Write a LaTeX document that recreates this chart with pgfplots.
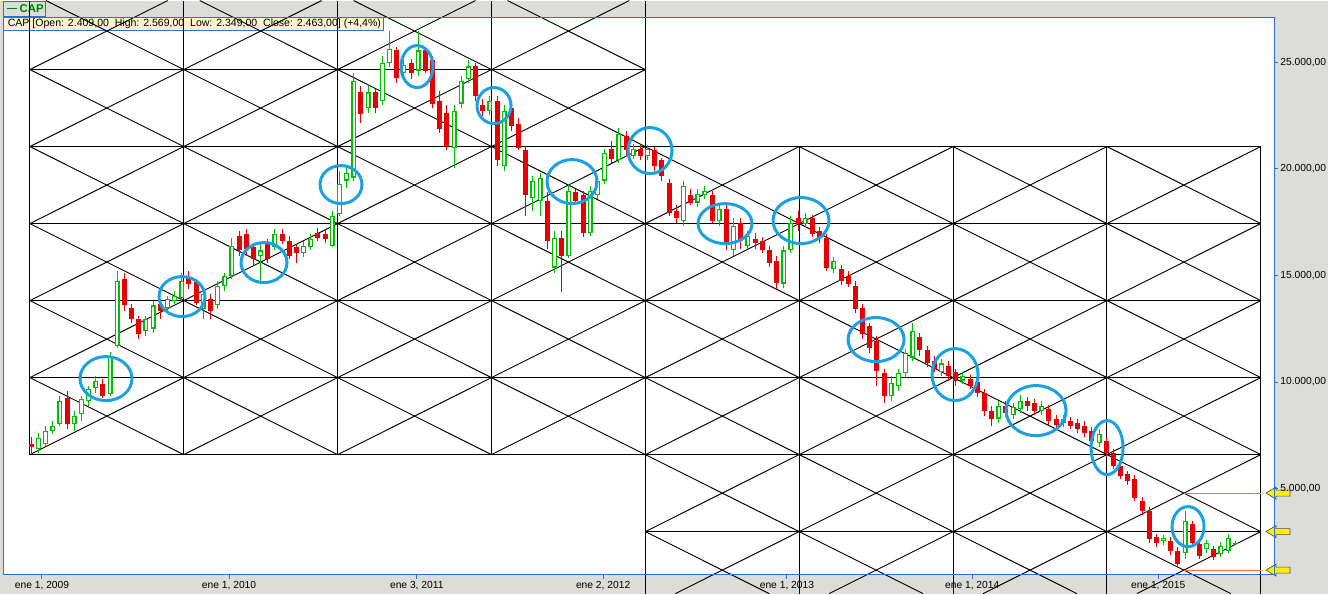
\documentclass[border=0pt]{standalone}
\usepackage{fontspec}
\setmainfont{Liberation Sans}
\usepackage{pgfplots}
\usepackage{pgfplotstable}
\pgfplotsset{compat=1.18}

\definecolor{bg}{RGB}{220,221,216}
\definecolor{axblue}{RGB}{45,110,220}
\definecolor{circ}{RGB}{27,161,226}
\definecolor{upg}{RGB}{0,192,0}
\definecolor{dnr}{RGB}{232,0,0}
\definecolor{infobg}{RGB}{255,242,204}
\definecolor{orng}{RGB}{255,120,20}
\definecolor{arrowy}{RGB}{255,240,0}
\definecolor{capgreen}{RGB}{0,128,0}

% weekly CAP candles (w = weeks since 1 Jan 2009), sampled every 2 weeks
\pgfplotstableread{
w o h l c
-3 7100 7400 6650 6950
-1 6880 7630 6690 7390
1 7110 7960 7020 7720
3 7720 8190 7580 7960
5 8050 9365 7960 9130
7 9270 9600 7810 8050
9 8050 8660 7720 8430
11 8520 9360 8190 9220
13 9130 9830 8900 9690
15 9740 10300 9500 10070
17 9930 10160 9230 9365
19 9460 11400 9360 11240
21 11700 15230 11600 14760
23 14850 15130 13350 13590
25 13490 13680 12790 12980
27 12980 13120 12040 12270
29 12410 13120 12180 12980
31 12510 13820 12320 13590
33 13680 13910 12980 13350
35 13490 14050 13350 13910
37 13820 14290 13680 14050
39 13960 15130 13820 14760
41 14900 15230 14380 14620
43 14670 14850 13590 13730
45 13440 14380 12980 14150
47 13910 14150 12980 13350
49 13590 14760 13440 14520
51 14520 15130 14290 14990
53 14990 16770 14850 16400
55 16870 17100 15930 16170
57 16960 17200 15930 16260
59 16310 16490 15460 15790
61 15930 16490 14760 16170
63 16490 16730 15600 15790
65 16310 17200 16170 16960
67 16960 17200 16490 16630
69 16630 16870 15790 15930
71 16310 16490 15600 16030
73 16030 16630 15880 16400
75 16310 16960 16170 16730
77 17010 17240 16630 16770
79 16960 17200 16540 16730
81 16400 18040 16310 17810
83 17900 19920 17810 19310
85 19450 20150 19120 19820
87 19590 24510 19450 24140
89 23580 23900 22170 22590
91 22830 23900 22640 23580
93 23580 23760 22640 22830
95 23200 25310 22970 24980
97 24940 26480 24790 25640
99 25550 25690 24040 24280
101 24510 25080 24370 24890
103 24980 25170 24230 24510
105 24610 26480 24370 25550
107 25550 25690 24470 24610
109 25080 25310 22830 23060
111 23200 23670 21700 21890
113 22640 22970 20860 21090
115 20990 22970 20060 22730
117 23060 24370 22830 24140
119 24230 25080 24040 24800
121 24800 24980 23200 23430
123 22970 23290 22500 22730
125 22730 23430 22540 23200
127 23200 23430 20150 20390
129 20150 22970 19920 22730
131 22830 23020 21790 22030
133 22120 22360 20860 20990
135 20860 21090 17810 18750
137 18650 19680 18040 19450
139 18510 19820 17810 19590
141 18510 18890 16260 16630
143 15370 17100 15130 16770
145 16770 17100 14200 15930
147 15930 19310 15800 18980
149 18890 19070 18280 18510
151 18750 18980 16820 17010
153 17010 19210 16870 18980
155 18750 19640 18600 19450
157 19450 20950 19310 20760
159 20950 21320 20290 20480
161 20390 21930 20250 21650
163 21560 21790 20620 20860
165 20620 21180 20480 20950
167 20950 21140 20390 20620
169 20620 21140 20390 20950
171 20860 21040 19920 20150
173 20390 20530 19450 19680
175 19350 19540 17810 17950
177 18040 18280 17480 17710
179 17570 19450 17340 19210
181 18750 19070 18280 18420
183 18420 19070 18230 18840
185 18750 19210 18600 18980
187 18750 18980 17480 17570
189 17570 18370 17340 18130
191 18130 18370 16170 16540
193 16170 17670 15930 17340
195 17480 17670 16260 16630
197 16400 17100 16260 16870
199 16730 17010 16260 16540
201 16630 16820 16030 16170
203 16170 16400 15410 15600
205 15700 15930 14380 14660
207 14620 16400 14430 16170
209 16170 17810 16070 17480
211 17710 18040 17100 17430
213 17430 17950 17290 17710
215 17670 17850 16820 16960
217 17100 17290 16540 16770
219 16770 16960 15230 15370
221 15320 15880 15130 15700
223 15320 15510 14570 14760
225 14990 15230 14480 14620
227 14520 14760 13260 13440
229 13490 13680 12040 12270
231 12650 12790 11380 11620
233 11940 12180 9830 10540
235 10430 10630 9040 9360
237 9360 10300 9130 9970
239 9830 10630 9600 10430
241 10430 11570 10260 11380
243 11150 12790 11010 12410
245 12090 12320 11240 11480
247 11480 11710 10720 10910
249 11010 11240 10450 10630
251 10450 11100 10300 10870
253 10770 11010 10070 10300
255 10450 10630 9830 10070
257 10070 10450 9930 10300
259 10160 10350 9690 9830
261 9980 10160 9320 9500
263 9500 9690 8430 8660
265 8660 8900 7960 8290
267 8290 9130 8100 8900
269 8900 9130 8380 8570
271 8470 9040 8290 8850
273 8750 9410 8570 9130
275 9130 9320 8660 8900
277 9040 9220 8470 8660
279 8660 9130 8470 8900
281 8750 8940 8000 8190
283 8290 8470 7820 8000
285 8100 8470 7910 8290
287 8190 8380 7820 7960
289 8100 8290 7630 7820
291 7960 8190 7440 7630
293 7720 7910 7070 7250
295 7160 7820 6970 7580
297 7250 7440 6500 6690
299 6690 6880 5940 6080
301 6080 6220 5470 5610
303 5710 5850 5190 5380
305 5470 5660 4440 4580
307 4440 4630 3780 3970
309 3970 4160 2470 2660
311 2750 2890 2280 2470
313 2560 2850 2380 2700
315 2560 2750 1910 2090
317 2090 2280 1350 1490
319 1960 3970 1720 3500
321 3360 3500 2330 2470
323 2420 2560 1720 1860
325 2190 2610 2000 2470
327 2190 2330 1670 1810
329 1950 2520 1810 2330
331 2090 2890 2000 2700
333 2409 2569 2349 2463
}\capdata

\begin{document}
\begin{tikzpicture}[hv/.style={black, line width=0.85pt}, dg/.style={black, line width=0.7pt}]
\begin{axis}[
  scale only axis, width=952.5pt, height=417.75pt,
  xmin=-10.61, xmax=343.85, ymin=969.4, ymax=27092.7,
  clip=false, axis on top,
  axis line style={axblue, line width=0.75pt},
  tick style={axblue, line width=0.75pt},
  major tick length=3pt, tick align=outside,
  xtick pos=bottom, ytick pos=right, yticklabel pos=right,
  scaled y ticks=false,
  xtick={0,52.2,104.6,156.6,207.9,259.6,311.5},
  xticklabels={{ene 1, 2009},{ene 1, 2010},{ene 3, 2011},{ene 2, 2012},{ene 1, 2013},{ene 1, 2014},{ene 1, 2015}},
  ytick={5000,10000,15000,20000,25000},
  yticklabels={{5.000,00},{10.000,00},{15.000,00},{20.000,00},{25.000,00}},
  ticklabel style={font=\fontsize{7.7}{9}\selectfont, text=black},
  xticklabel style={inner sep=0pt, yshift=-1.5pt},
  yticklabel style={anchor=west, inner sep=0pt, xshift=1.5pt},
]
% window background and plot area
\fill[bg] (axis cs:-11.72,78.3) rectangle (axis cs:358.9,27890);
\fill[white] (rel axis cs:0,0) rectangle (rel axis cs:1,1);
% legend tab and quote bar
\draw[axblue, line width=0.75pt] (axis cs:-10.61,27160) rectangle (axis cs:0.84,27860);
\draw[capgreen, line width=1pt] (axis cs:-9.77,27515) -- (axis cs:-7.0,27515);
\node[anchor=west, inner sep=0pt, text=capgreen, font=\fontsize{8.5}{10}\selectfont\bfseries] at (axis cs:-6.3,27515) {CAP};
\draw[axblue, fill=infobg, line width=0.75pt] (axis cs:-10.61,26483) rectangle (axis cs:95.17,27093);
\node[anchor=west, inner sep=0pt, font=\fontsize{7.9}{9}\selectfont] at (axis cs:-9.6,26788)
  {CAP [Open: 2.409,00\ \ High: 2.569,00\ \ Low: 2.349,00\ \ Close: 2.463,00] (+4,4\%)};

% Gann grid, left block
\pgfplotsinvokeforeach{24654,21043,17431,13820,10209,6597}{
  \draw[hv] (axis cs:-3.38,#1) -- (axis cs:168.38,#1);}
\pgfplotsinvokeforeach{-3.38,39.56,82.50,125.44}{
  \draw[hv] (axis cs:#1,6597) -- (axis cs:#1,27890);}
\draw[hv] (axis cs:168.38,78.3) -- (axis cs:168.38,27890);
\draw[dg] (axis cs:-3.38,24654) -- (axis cs:35.09,27890);
\draw[dg] (axis cs:-3.38,21043) -- (axis cs:78.03,27890);
\draw[dg] (axis cs:-3.38,17431) -- (axis cs:120.97,27890);
\draw[dg] (axis cs:-3.38,13820) -- (axis cs:163.91,27890);
\draw[dg] (axis cs:-3.38,10209) -- (axis cs:168.38,24654);
\draw[dg] (axis cs:-3.38,6597) -- (axis cs:168.38,21043);
\draw[dg] (axis cs:39.56,6597) -- (axis cs:168.38,17431);
\draw[dg] (axis cs:82.50,6597) -- (axis cs:168.38,13820);
\draw[dg] (axis cs:125.44,6597) -- (axis cs:168.38,10209);
\draw[dg] (axis cs:-3.38,10209) -- (axis cs:39.56,6597);
\draw[dg] (axis cs:-3.38,13820) -- (axis cs:82.50,6597);
\draw[dg] (axis cs:-3.38,17431) -- (axis cs:125.44,6597);
\draw[dg] (axis cs:-3.38,21043) -- (axis cs:168.38,6597);
\draw[dg] (axis cs:-3.38,24654) -- (axis cs:168.38,10209);
\draw[dg] (axis cs:1.09,27890) -- (axis cs:168.38,13820);
\draw[dg] (axis cs:44.03,27890) -- (axis cs:168.38,17431);
\draw[dg] (axis cs:86.97,27890) -- (axis cs:168.38,21043);
\draw[dg] (axis cs:129.91,27890) -- (axis cs:168.38,24654);
% Gann grid, right block
\pgfplotsinvokeforeach{21043,17431,13820,10209,6597,2986}{
  \draw[hv] (axis cs:168.38,#1) -- (axis cs:340.14,#1);}
\pgfplotsinvokeforeach{211.32,254.26,297.20,340.14}{
  \draw[hv] (axis cs:#1,78.3) -- (axis cs:#1,21043);}
\draw[dg] (axis cs:168.38,17431) -- (axis cs:211.32,21043);
\draw[dg] (axis cs:168.38,13820) -- (axis cs:254.26,21043);
\draw[dg] (axis cs:168.38,10209) -- (axis cs:297.20,21043);
\draw[dg] (axis cs:168.38,6597) -- (axis cs:340.14,21043);
\draw[dg] (axis cs:168.38,2986) -- (axis cs:340.14,17431);
\draw[dg] (axis cs:176.75,78.3) -- (axis cs:340.14,13820);
\draw[dg] (axis cs:219.69,78.3) -- (axis cs:340.14,10209);
\draw[dg] (axis cs:262.63,78.3) -- (axis cs:340.14,6597);
\draw[dg] (axis cs:305.57,78.3) -- (axis cs:340.14,2986);
\draw[dg] (axis cs:297.20,21043) -- (axis cs:340.14,17431);
\draw[dg] (axis cs:254.26,21043) -- (axis cs:340.14,13820);
\draw[dg] (axis cs:211.32,21043) -- (axis cs:340.14,10209);
\draw[dg] (axis cs:168.38,21043) -- (axis cs:340.14,6597);
\draw[dg] (axis cs:168.38,17431) -- (axis cs:340.14,2986);
\draw[dg] (axis cs:168.38,13820) -- (axis cs:331.77,78.3);
\draw[dg] (axis cs:168.38,10209) -- (axis cs:288.83,78.3);
\draw[dg] (axis cs:168.38,6597) -- (axis cs:245.89,78.3);
\draw[dg] (axis cs:168.38,2986) -- (axis cs:202.95,78.3);

% candles: up (hollow green) and down (filled red)
\addplot[draw=none, mark=none, forget plot, error bars/.cd, y dir=both, y explicit, error mark=none,
  error bar style={draw=upg, line width=0.75pt}]
  table[x=w, y expr={\thisrow{c}>=\thisrow{o} ? (\thisrow{h}+\thisrow{l})/2 : nan},
        y error expr={(\thisrow{h}-\thisrow{l})/2}] {\capdata};
\addplot[draw=none, mark=none, forget plot, error bars/.cd, y dir=both, y explicit, error mark=none,
  error bar style={draw=dnr, line width=0.75pt}]
  table[x=w, y expr={\thisrow{c}<\thisrow{o} ? (\thisrow{h}+\thisrow{l})/2 : nan},
        y error expr={(\thisrow{h}-\thisrow{l})/2}] {\capdata};
\addplot[draw=none, mark=none, forget plot, error bars/.cd, y dir=both, y explicit, error mark=none,
  error bar style={draw=upg, line width=3.75pt}]
  table[x=w, y expr={\thisrow{c}>=\thisrow{o} ? (\thisrow{o}+\thisrow{c})/2 : nan},
        y error expr={max((\thisrow{c}-\thisrow{o})/2,35)}] {\capdata};
\addplot[draw=none, mark=none, forget plot, error bars/.cd, y dir=both, y explicit, error mark=none,
  error bar style={draw=white, line width=1.8pt}]
  table[x=w, y expr={\thisrow{c}>=\thisrow{o} ? (\thisrow{o}+\thisrow{c})/2 : nan},
        y error expr={max((\thisrow{c}-\thisrow{o})/2-50,0)}] {\capdata};
\addplot[draw=none, mark=none, forget plot, error bars/.cd, y dir=both, y explicit, error mark=none,
  error bar style={draw=dnr, line width=3.75pt}]
  table[x=w, y expr={\thisrow{c}<\thisrow{o} ? (\thisrow{o}+\thisrow{c})/2 : nan},
        y error expr={max((\thisrow{o}-\thisrow{c})/2,35)}] {\capdata};

% target levels
\draw[orng, line width=0.75pt] (axis cs:318.67,4792) -- (axis cs:340.14,4792);
\draw[orng, line width=0.75pt] (axis cs:318.67,1181) -- (axis cs:340.14,1181);

% highlighted touches
\begin{scope}[circ, line width=2.25pt]
\draw (axis cs:17.86,10162) ellipse [x radius=19.5pt, y radius=16.5pt];
\draw (axis cs:39.07,14008) ellipse [x radius=17.25pt, y radius=15pt];
\draw (axis cs:61.96,15602) ellipse [x radius=17.25pt, y radius=15pt];
\draw (axis cs:83.45,19260) ellipse [x radius=15.75pt, y radius=14.25pt];
\draw (axis cs:104.66,24795) ellipse [x radius=12pt, y radius=15.75pt];
\draw (axis cs:126.15,22965) ellipse [x radius=12.75pt, y radius=13.5pt];
\draw (axis cs:147.92,19401) ellipse [x radius=18.75pt, y radius=16.5pt];
\draw (axis cs:169.69,20855) ellipse [x radius=16.5pt, y radius=17.25pt];
\draw (axis cs:190.62,17431) ellipse [x radius=20.25pt, y radius=15pt];
\draw (axis cs:211.83,17572) ellipse [x radius=21pt, y radius=17.25pt];
\draw (axis cs:232.77,11991) ellipse [x radius=21pt, y radius=16.5pt];
\draw (axis cs:254.82,10349) ellipse [x radius=17.25pt, y radius=19.5pt];
\draw (axis cs:277.42,8661) ellipse [x radius=22.5pt, y radius=18.75pt];
\draw (axis cs:297.24,6926) ellipse [x radius=12pt, y radius=20.25pt];
\draw (axis cs:319.84,3221) ellipse [x radius=12pt, y radius=15pt];
\end{scope}

% level arrows on the price scale
\pgfplotsinvokeforeach{4792,2986,1181}{
  \draw[fill=arrowy, draw=black!70, line width=0.5pt] (axis cs:341.6,#1) -- ++(7.5pt,4.5pt) -- ++(0pt,-2.25pt)
    -- ++(10.5pt,0pt) -- ++(0pt,-4.5pt) -- ++(-10.5pt,0pt) -- ++(0pt,-2.25pt) -- cycle;}
\end{axis}
\end{tikzpicture}
\end{document}
